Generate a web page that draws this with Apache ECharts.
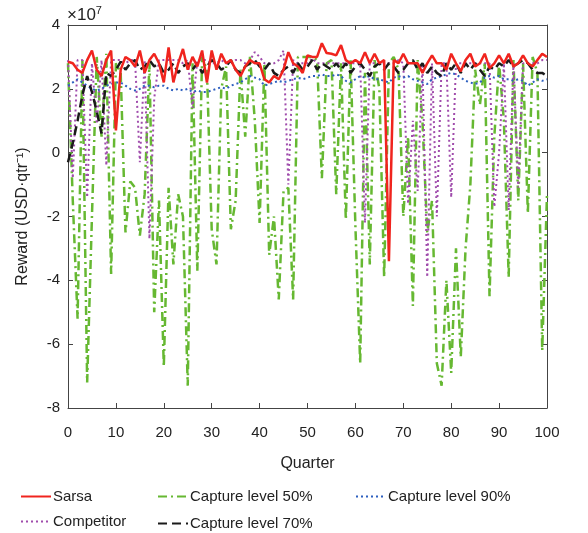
<!DOCTYPE html>
<html>
<head>
<meta charset="utf-8">
<script src="https://cdn.jsdelivr.net/npm/echarts@6/dist/echarts.min.js"></script>
<style>
html,body{margin:0;padding:0;background:#fff;}
#chart{width:588px;height:533px;}
</style>
</head>
<body>
<div id="chart"></div>
<script>
var chart = echarts.init(document.getElementById('chart'));

// quarters 0..100
var quarters = [];
for (var i = 0; i <= 100; i++) quarters.push(i);

// reward values, unit 1e7 USD/qtr
var sarsa = [2.85,2.8,2.6,2.5,2.9,3.2,2.6,2.4,2.9,3.2,0.7,2.6,3.0,2.9,2.7,3.2,2.5,2.9,3.1,2.8,
  2.2,3.3,2.2,2.8,3.25,2.6,3.0,2.7,3.2,2.2,3.2,2.6,3.1,2.8,2.9,2.6,2.4,2.7,2.9,2.8,
  2.8,2.3,2.2,2.4,2.3,2.6,3.15,2.8,2.7,2.5,3.05,3.0,3.0,3.43,3.12,3.1,3.05,3.37,2.9,2.8,
  2.9,2.8,3.15,2.8,3.1,2.8,2.9,-3.4,2.9,2.8,3.1,2.8,2.8,2.8,2.5,2.8,3.05,2.8,2.8,2.6,
  3.1,2.8,2.55,2.9,3.1,2.7,2.8,3.1,2.65,2.8,3.05,2.8,3.1,2.7,2.8,3.05,2.8,2.7,2.9,3.1,3.0];

var competitor = [2.9,-0.8,2.9,2.9,-1.4,2.8,0.9,2.9,-0.4,2.9,2.9,2.9,2.8,2.9,2.9,-0.3,2.9,-2.7,1.7,2.9,
  2.9,2.9,2.9,2.9,2.8,2.9,1.4,2.9,2.9,2.9,2.8,2.8,2.9,2.8,2.8,2.9,2.9,2.8,2.9,3.15,
  3.0,2.8,2.8,2.8,2.9,3.2,-1.0,2.9,2.8,2.8,2.8,2.95,2.8,2.8,2.8,2.8,2.8,2.8,2.8,2.8,
  2.8,2.8,-2.2,2.8,2.8,2.8,2.8,2.8,2.8,2.9,2.8,-1.6,1.0,-1.2,2.8,-3.9,2.8,-2.0,2.8,2.8,
  -1.4,2.8,2.8,2.8,2.8,2.8,2.8,2.8,2.8,-1.7,0.0,2.8,-1.8,2.8,-1.1,2.8,2.8,2.8,2.8,2.9,2.9];

var capture50 = [2.8,-1.5,-5.2,2.9,-7.2,-2.0,3.0,0.5,3.1,-3.8,2.8,2.5,-2.5,-0.9,-1.1,-2.6,-1.3,2.8,-5.0,-1.5,
  -6.7,-1.1,-3.5,-1.3,-2.0,-7.3,2.8,-3.7,3.0,2.6,-2.4,-3.5,2.0,2.7,-2.4,-1.5,2.6,0.5,3.0,1.0,
  -2.2,2.8,-3.2,-2.0,-4.6,-1.2,-1.1,-4.6,3.0,3.0,3.0,3.0,2.9,-0.8,2.8,2.9,-1.3,2.8,-2.1,2.9,
  -2.3,-6.6,2.5,-3.5,2.9,2.0,-3.9,2.8,3.0,2.6,-2.0,0.5,-4.8,2.9,1.0,-2.5,-1.5,-6.6,-7.3,-4.0,
  -6.9,-3.0,-6.4,-3.0,-1.0,2.6,1.5,2.8,-4.5,0.5,2.8,1.0,-3.9,2.9,-1.5,2.8,-1.9,3.0,2.5,-6.2,-1.3];

var capture70 = [-0.3,0.3,1.0,1.8,2.4,1.9,1.3,0.6,2.5,2.4,2.6,2.85,2.6,2.8,2.9,2.6,2.7,2.9,2.7,2.8,
  2.5,2.6,2.8,2.5,2.7,2.8,2.6,2.8,2.5,2.7,2.9,2.8,2.6,2.7,2.9,2.6,2.5,2.7,2.8,2.9,
  2.7,2.6,2.8,2.5,2.4,2.6,2.7,2.5,2.8,2.6,2.7,2.9,2.6,2.8,2.7,2.6,2.8,2.6,2.8,2.5,
  2.7,2.8,2.6,2.4,2.7,2.8,2.6,2.8,2.7,2.5,2.6,2.8,2.9,2.6,2.8,2.5,2.7,2.5,2.4,2.8,
  2.6,2.8,2.5,2.8,2.6,2.8,2.6,2.4,2.7,2.6,2.8,2.7,2.9,2.7,2.8,2.9,2.8,2.6,2.5,2.5,2.4];

var capture90 = [2.1,2.2,2.3,2.2,2.1,2.0,1.95,2.0,2.1,2.15,2.2,2.2,2.1,2.0,1.95,2.0,2.1,2.1,2.05,2.1,
  2.1,2.0,1.95,2.0,1.95,2.0,1.9,1.95,1.9,1.9,1.95,2.0,2.05,2.0,2.1,2.15,2.2,2.3,2.4,2.35,
  2.3,2.1,2.15,2.2,2.25,2.2,2.25,2.3,2.35,2.3,2.35,2.4,2.4,2.45,2.4,2.4,2.45,2.4,2.25,2.2,
  2.3,2.4,2.35,2.4,2.3,2.3,2.25,2.2,2.35,2.4,2.35,2.4,2.3,2.25,2.2,2.15,2.3,2.35,2.4,2.45,
  2.5,2.45,2.35,2.25,2.2,2.15,2.2,2.35,2.4,2.35,2.4,2.3,2.3,2.25,2.3,2.25,2.1,2.2,2.3,2.25,2.3];

var yTicks = [-8, -6, -4, -2, 0, 2, 4];

function pairs(arr) {
    return arr.map(function (v, i) { return [quarters[i], v]; });
}

var font = 'Liberation Sans, Arial, Helvetica, sans-serif';
var axisColor = '#444';

function lineSeries(name, data, color, width, type, z) {
    return {
        name: name,
        type: 'line',
        data: pairs(data),
        showSymbol: false,
        symbol: 'none',
        z: z,
        lineStyle: { color: color, width: width, type: type },
        itemStyle: { color: color }
    };
}

function legendAt(name, left, top) {
    return {
        data: [name],
        left: left,
        top: top,
        itemWidth: 30,
        itemHeight: 10,
        padding: 0,
        itemStyle: { opacity: 0 },
        textStyle: { fontFamily: font, fontSize: 15, color: '#222', padding: [0, 0, 0, -3] }
    };
}

var option = {
    animation: false,
    backgroundColor: '#fff',
    grid: { left: 68, right: 41, top: 25, bottom: 125 },
    legend: [
        legendAt('Sarsa', 20, 489),
        legendAt('Competitor', 20, 514),
        legendAt('Capture level 50%', 157, 489),
        legendAt('Capture level 70%', 157, 516),
        legendAt('Capture level 90%', 355, 489)
    ],
    graphic: [{
        type: 'text',
        left: 67,
        top: 5,
        style: {
            text: '×10{s|7}',
            font: '17px ' + font,
            fill: '#222',
            rich: { s: { fontSize: 11, verticalAlign: 'top', padding: [0, 0, 9, 0], fontFamily: font } }
        }
    }],
    xAxis: [{
        type: 'value',
        min: 0, max: 100, interval: 10,
        name: 'Quarter',
        nameLocation: 'middle',
        nameGap: 48,
        nameTextStyle: { fontFamily: font, fontSize: 16, color: '#222' },
        axisLine: { onZero: false, lineStyle: { color: axisColor, width: 1 } },
        axisTick: { inside: true, length: 5, lineStyle: { color: axisColor } },
        axisLabel: { fontFamily: font, fontSize: 15, color: '#222', margin: 17 },
        splitLine: { show: false }
    }, {
        type: 'value', position: 'top',
        min: 0, max: 100, interval: 10,
        axisLine: { onZero: false, lineStyle: { color: axisColor, width: 1 } },
        axisTick: { inside: true, length: 5, lineStyle: { color: axisColor } },
        axisLabel: { show: false },
        splitLine: { show: false }
    }],
    yAxis: [{
        type: 'value',
        min: yTicks[0], max: yTicks[yTicks.length - 1], interval: 2,
        name: 'Reward (USD·qtr⁻¹)',
        nameLocation: 'middle',
        nameGap: 37,
        nameTextStyle: { fontFamily: font, fontSize: 16, color: '#222' },
        axisLine: { show: true, onZero: false, lineStyle: { color: axisColor, width: 1 } },
        axisTick: { show: true, inside: true, length: 5, lineStyle: { color: axisColor } },
        axisLabel: { fontFamily: font, fontSize: 15, color: '#222', margin: 8 },
        splitLine: { show: false }
    }, {
        type: 'value', position: 'right',
        min: yTicks[0], max: yTicks[yTicks.length - 1], interval: 2,
        axisLine: { show: true, onZero: false, lineStyle: { color: axisColor, width: 1 } },
        axisTick: { show: true, inside: true, length: 5, lineStyle: { color: axisColor } },
        axisLabel: { show: false },
        splitLine: { show: false }
    }],
    series: [
        lineSeries('Capture level 50%', capture50, '#66b832', 2.5, [9, 4, 2, 4], 2),
        lineSeries('Competitor', competitor, '#a04cac', 2, [2, 3], 3),
        lineSeries('Capture level 90%', capture90, '#2d5fbf', 2, [2, 3], 4),
        lineSeries('Capture level 70%', capture70, '#1a1a1a', 2.5, [9, 5], 5),
        lineSeries('Sarsa', sarsa, '#f0241e', 2.5, 'solid', 6)
    ]
};

chart.setOption(option);
</script>
</body>
</html>
